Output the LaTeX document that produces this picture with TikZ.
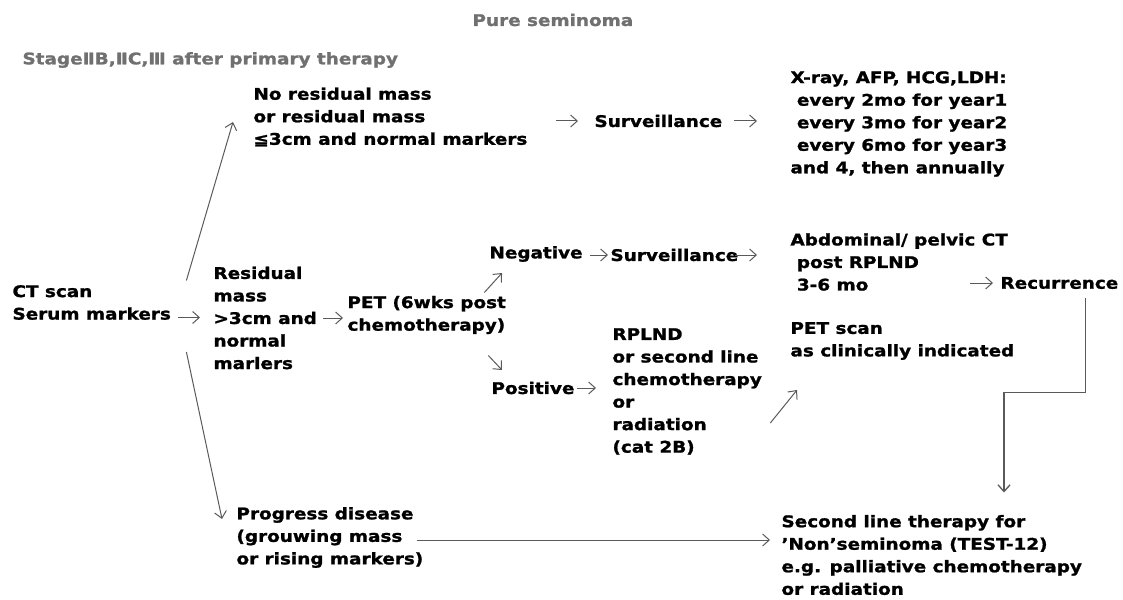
\documentclass[tikz,border=0pt]{standalone}
\usepackage{fontspec}
\setmainfont{DejaVu Sans}[FakeStretch=1.15, BoldFeatures={FakeBold=1.3}]
\usetikzlibrary{arrows.meta,calc}

\definecolor{txtgray}{RGB}{112,112,112}
\definecolor{arrgray}{RGB}{90,90,90}

\tikzset{every picture/.style={line width=0.75pt}}
\tikzset{
  lbl/.style={anchor=west, inner sep=0.75pt, align=left, font=\fontsize{12}{16.9}\selectfont\bfseries},
  ttl/.style={lbl, text=txtgray},
  garrow/.style={draw=arrgray, -{Straight Barb[length=5pt,width=9pt]}},
}

\begin{document}
\begin{tikzpicture}[x=0.75pt,y=0.75pt,yscale=-1,xscale=1]
		\useasboundingbox (0,0) rectangle (1123,599);
		
		%Titles
		\draw (471,20) node [ttl] (title) {Pure seminoma};
		\draw (21,60) node [ttl] (stage) {StageⅡB,ⅡC,Ⅲ after primary therapy};
		
		%Text blocks
		\draw (11,302.5) node [lbl] (ctscan) {CT scan\\Serum markers};
		\draw (252,117) node [lbl] (nores) {No residual mass\\or residual mass\\≦3cm and normal markers};
		\draw (593,121) node [lbl] (surv1) {Surveillance};
		\draw (789,124) node [lbl] (xray) {X-ray, AFP, HCG,LDH:\\\ every 2mo for year1\\\ every 3mo for year2\\\ every 6mo for year3\\and 4, then annually};
		\draw (212,318) node [lbl] (resid) {Residual\\mass\\>3cm and\\normal\\marlers};
		\draw (346,315) node [lbl] (pet) {PET (6wks post\\chemotherapy)};
		\draw (488,254) node [lbl] (neg) {Negative};
		\draw (609,255) node [lbl] (surv2) {Surveillance};
		\draw (789,262) node [lbl] (abdct) {Abdominal/ pelvic CT\\\ post RPLND\\\ 3-6 mo};
		\draw (999,283) node [lbl] (recur) {Recurrence};
		\draw (490,388) node [lbl] (pos) {Positive};
		\draw (611,391.5) node [lbl] (rplnd) {RPLND\\or second line\\chemotherapy\\or\\radiation\\(cat 2B)};
		\draw (789,341) node [lbl] (petscan) {PET scan\\as clinically indicated};
		\draw (235,537.5) node [lbl] (progress) {Progress disease\\(grouwing mass\\or rising markers)};
		\draw (780,555) node [lbl] (second) {Second line therapy for\\'Non'seminoma (TEST-12)\\e.g. palliative chemotherapy\\or radiation};
		
		%Connectors
		\draw [garrow] ($(ctscan.east)+(14,-22)$) -- ($(nores.west)+(-19,5)$);
		\draw [garrow] ($(resid.west)+(-34,-0.5)$) -- ($(resid.west)+(-12,-0.5)$);
		\draw [garrow] ($(ctscan.east)+(14,49.5)$) -- ($(progress.west)+(-13,-18.5)$);
		\draw [garrow] ($(surv1.west)+(-37,0)$) -- ($(surv1.west)+(-15,0)$);
		\draw [garrow] ($(xray.west)+(-55,-3)$) -- ($(xray.west)+(-32,-3)$);
		\draw [garrow] ($(pet.west)+(-23,3)$) -- ($(pet.west)+(-3,3)$);
		\draw [garrow] ($(pet.north east)+(-23,-2)$) -- ($(neg.west)+(14,19)$);
		\draw [garrow] ($(pet.south east)+(-19,20)$) -- ($(pos.west)+(12,-18)$);
		\draw [garrow] ($(surv2.west)+(-19,0)$) -- ($(surv2.west)+(-1,0)$);
		\draw [garrow] ($(abdct.west)+(-54,-7)$) -- ($(abdct.west)+(-32,-7)$);
		\draw [garrow] ($(recur.west)+(-29,0)$) -- ($(recur.west)+(-6,0)$);
		\draw [garrow] ($(rplnd.west)+(-34,-3.5)$) -- ($(rplnd.west)+(-15,-3.5)$);
		\draw [garrow] ($(rplnd.east)+(7,31.5)$) -- ($(petscan.west)+(8,49)$);
		\draw [garrow] ($(progress.east)+(-8,2.5)$) -- ($(second.west)+(-10,-15)$);
		\draw [garrow, line width=1pt] ($(recur.south east)+(-34,8)$) -- ++(0,94) -| ($(second.north west)+(224,-21)$);
		
	\end{tikzpicture}
\end{document}
